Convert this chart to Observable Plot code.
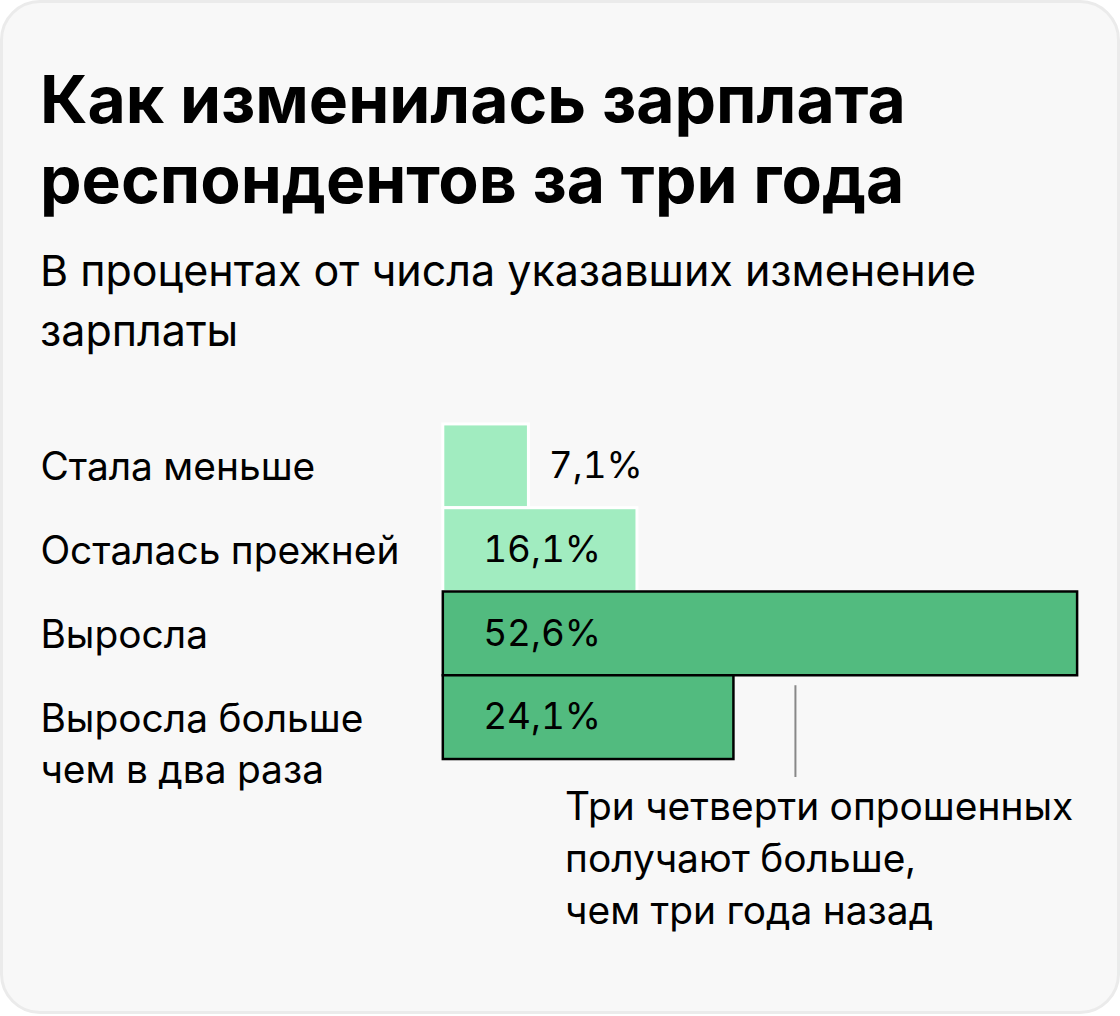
<!DOCTYPE html>
<html>
<head>
<meta charset="utf-8">
<script src="https://cdn.jsdelivr.net/npm/d3@7"></script>
<script src="https://cdn.jsdelivr.net/npm/@observablehq/plot@0.6"></script>
<style>
  html, body { margin: 0; padding: 0; background: #ffffff; }
  #card {
    position: relative; box-sizing: border-box;
    width: 1120px; height: 1014px;
    background: #f8f8f8; border: 3px solid #ebebeb; border-radius: 40px;
    font-family: Inter, "Noto Sans", sans-serif; color: #000;
    overflow: hidden;
  }
  #title {
    position: absolute; left: 37px; top: 56px; margin: 0;
    font-size: 66px; font-weight: 700; line-height: 80px;
  }
  #subtitle {
    position: absolute; left: 37px; top: 237px; margin: 0;
    font-size: 43px; font-weight: 400; line-height: 60px;
  }
  #chart { position: absolute; left: -3px; top: 397px; }
  #chart svg text { font-variant-numeric: tabular-nums; }
</style>
</head>
<body>
<div id="card">
  <h1 id="title">Как изменилась зарплата<br>респондентов за три года</h1>
  <p id="subtitle">В процентах от числа указавших изменение<br>зарплаты</p>
  <div id="chart"></div>
</div>
<script>
const categories = ["Стала меньше", "Осталась прежней", "Выросла", "Выросла больше\nчем в два раза"];
const values = [7.1, 16.1, 52.6, 24.1];
const valueLabels = ["7,1%", "16,1%", "52,6%", "24,1%"];
const groups = ["light", "light", "dark", "dark"];
const annotationRow = ["Выросла больше\nчем в два раза"];
const annotationX = [29.2];
const annotationText = ["Три четверти опрошенных\nполучают больше,\nчем три года назад"];

const data = categories.map((c, i) => ({cat: c, value: values[i], label: valueLabels[i], group: groups[i]}));
const ann = annotationRow.map((r, i) => ({cat: r, x: annotationX[i], text: annotationText[i]}));

const font = "Inter, 'Noto Sans', sans-serif";
const fs = 39;

const chart = Plot.plot({
  width: 1120,
  height: 560,
  marginLeft: 444,
  marginRight: 40,
  marginTop: 24,
  marginBottom: 200,
  style: {background: "transparent", fontFamily: font, fontSize: fs + "px", overflow: "visible"},
  x: {domain: [0, 52.6], axis: null},
  y: {domain: categories, padding: 0, axis: null},
  color: {domain: ["light", "dark"], range: ["#a1ecc0", "#52bb7f"]},
  marks: [
    Plot.barX(data.filter(d => d.group === "light"), {x: "value", y: "cat", fill: "group", stroke: "#ffffff", strokeWidth: 3}),
    Plot.barX(data.filter(d => d.group === "dark"), {x: "value", y: "cat", fill: "group", stroke: "#000000", strokeWidth: 2.5}),
    Plot.text(data, {
      x: d => d.value < 10 ? d.value : 0, y: "cat", text: "label",
      textAnchor: "start", fill: "#000", fontSize: 37
    }),
    Plot.text(categories, {
      y: d => d, text: d => d, frameAnchor: "left", textAnchor: "start",
      dx: -404, lineAnchor: "top", dy: -23, lineHeight: 52 / fs, fill: "#000", fontSize: fs
    }),
    Plot.tickX(ann, {x: "x", y: "cat", stroke: "#888888", strokeWidth: 2, insetTop: 10, insetBottom: -18}),
    Plot.text(ann, {
      x: "x", y: "cat", text: "text", textAnchor: "start", lineAnchor: "top",
      dx: -231, dy: 66, lineHeight: 52 / fs, fill: "#000", fontSize: fs
    })
  ]
});
// offset value labels: outside small bars, inside large bars
d3.select(chart).selectAll("g[aria-label='text']").filter((_, i) => i === 0)
  .selectAll("text").attr("dx", (_, i) => values[i] < 10 ? 20 : 40);
document.getElementById("chart").appendChild(chart);
</script>
</body>
</html>
